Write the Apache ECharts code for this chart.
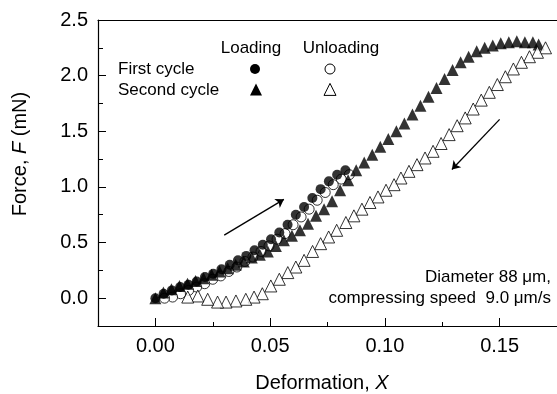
<!DOCTYPE html>
<html>
<head>
<meta charset="utf-8">
<script src="https://cdn.jsdelivr.net/npm/echarts@6/dist/echarts.min.js"></script>
<style>html,body{margin:0;padding:0;background:#fff}#c{width:557px;height:394px}</style>
</head>
<body>
<div id="c"></div>
<script>
// ---- Data ----
const xFirstLoad = [0, 0.0036, 0.0072, 0.0108, 0.0144, 0.018, 0.0216, 0.0252, 0.0288, 0.0324, 0.036, 0.0396, 0.0432, 0.0468, 0.0504, 0.054, 0.0576, 0.0612, 0.0648, 0.0684, 0.072, 0.0756, 0.0792, 0.0828];
const yFirstLoad = [0, 0.04, 0.07, 0.10, 0.12, 0.15, 0.19, 0.22, 0.26, 0.30, 0.34, 0.38, 0.43, 0.48, 0.53, 0.59, 0.66, 0.75, 0.82, 0.90, 0.98, 1.05, 1.11, 1.15];

const xFirstUnload = [0.0845, 0.081, 0.0775, 0.074, 0.0705, 0.067, 0.0635, 0.06, 0.0565, 0.053, 0.0495, 0.046, 0.0425, 0.039, 0.0355, 0.032, 0.0285, 0.025, 0.0215, 0.018, 0.0145, 0.011, 0.0075, 0.004];
const yFirstUnload = [1.11, 1.07, 1.02, 0.95, 0.88, 0.80, 0.73, 0.66, 0.58, 0.53, 0.47, 0.42, 0.37, 0.33, 0.28, 0.24, 0.20, 0.17, 0.13, 0.10, 0.07, 0.04, 0.01, 0.0];

const xSecondLoad = [0, 0.0035, 0.007, 0.0105, 0.014, 0.0175, 0.021, 0.0245, 0.028, 0.0315, 0.035, 0.0385, 0.042, 0.0455, 0.049, 0.0525, 0.056, 0.0595, 0.063, 0.0665, 0.07, 0.0735, 0.077, 0.0805, 0.084, 0.0875, 0.091, 0.0945, 0.098, 0.1015, 0.105, 0.1085, 0.112, 0.1155, 0.119, 0.1225, 0.126, 0.1295, 0.133, 0.1365, 0.14, 0.1435, 0.147, 0.1505, 0.154, 0.1575, 0.161, 0.1645, 0.167];
const ySecondLoad = [0.0, 0.05, 0.08, 0.11, 0.13, 0.155, 0.18, 0.21, 0.24, 0.27, 0.30, 0.33, 0.365, 0.39, 0.42, 0.47, 0.52, 0.56, 0.61, 0.67, 0.74, 0.80, 0.87, 0.97, 1.06, 1.15, 1.22, 1.29, 1.36, 1.43, 1.50, 1.57, 1.65, 1.73, 1.81, 1.89, 1.97, 2.05, 2.12, 2.17, 2.22, 2.25, 2.27, 2.29, 2.30, 2.31, 2.30, 2.30, 2.28];

const xSecondUnload = [0.170, 0.1665, 0.163, 0.1595, 0.156, 0.1525, 0.149, 0.1455, 0.142, 0.1385, 0.135, 0.1315, 0.128, 0.1245, 0.121, 0.1175, 0.114, 0.1105, 0.107, 0.104, 0.1005, 0.097, 0.0935, 0.090, 0.0865, 0.083, 0.079, 0.0755, 0.072, 0.0685, 0.0648, 0.0612, 0.0577, 0.054, 0.0503, 0.0466, 0.043, 0.0394, 0.0351, 0.0308, 0.0271, 0.0228, 0.0185, 0.0141];
const ySecondUnload = [2.25, 2.21, 2.17, 2.12, 2.06, 1.99, 1.92, 1.85, 1.78, 1.70, 1.62, 1.55, 1.47, 1.39, 1.32, 1.26, 1.20, 1.14, 1.08, 1.02, 0.97, 0.91, 0.86, 0.80, 0.74, 0.68, 0.61, 0.55, 0.49, 0.42, 0.34, 0.28, 0.23, 0.17, 0.11, 0.04, 0.01, -0.01, -0.025, -0.035, -0.035, -0.01, 0.02, 0.01];

const xTickLabels = [0, 0.05, 0.10, 0.15];
const xMinorTicks = [0.025, 0.075, 0.125];
const yTickLabels = [0, 0.5, 1.0, 1.5, 2.0, 2.5];
const yMinorTicks = [0.25, 0.75, 1.25, 1.75, 2.25];

const arrowLoading = [[0.030, 0.567], [0.056, 0.888]];
const arrowUnloading = [[0.150, 1.607], [0.1292, 1.157]];

const seriesNames = ['First cycle loading', 'First cycle unloading', 'Second cycle loading', 'Second cycle unloading'];

// ---- Build ----
const zip = (xs, ys) => xs.map((x, i) => [x, ys[i]]);
const FONT = 'Liberation Sans, Arial, sans-serif';
const chart = echarts.init(document.getElementById('c'), null, {renderer: 'canvas'});

const axisLineStyle = {color: '#000', width: 1.2};
const triPts = (cx, cy, s) => [[cx, cy - s * 0.55], [cx + s / 2, cy + s * 0.45], [cx - s / 2, cy + s * 0.45]];

const option = {
  animation: false,
  grid: {left: 98, top: 20, width: 462, height: 306, containLabel: false},
  xAxis: [
    {type: 'value', min: -0.025, max: 0.175, position: 'bottom',
     axisLine: {onZero: false, lineStyle: axisLineStyle},
     axisTick: {inside: true, length: 8, customValues: xTickLabels, lineStyle: {color: '#000', width: 1}},
     axisLabel: {customValues: xTickLabels, formatter: v => v.toFixed(2), fontSize: 20, color: '#000', fontFamily: FONT, margin: 10},
     splitLine: {show: false}},
    {type: 'value', min: -0.025, max: 0.175, position: 'bottom',
     axisLine: {show: false, onZero: false},
     axisTick: {inside: true, length: 4, customValues: xMinorTicks, lineStyle: {color: '#000', width: 1}},
     axisLabel: {show: false}, splitLine: {show: false}},
    {type: 'value', min: -0.025, max: 0.175, position: 'top',
     axisLine: {onZero: false, lineStyle: axisLineStyle},
     axisTick: {show: false}, axisLabel: {show: false}, splitLine: {show: false}}
  ],
  yAxis: [
    {type: 'value', min: -0.25, max: 2.5, position: 'left',
     axisLine: {show: true, onZero: false, lineStyle: axisLineStyle},
     axisTick: {show: true, inside: true, length: 8, customValues: yTickLabels, lineStyle: {color: '#000', width: 1}},
     axisLabel: {customValues: yTickLabels, formatter: v => v.toFixed(1), fontSize: 20, color: '#000', fontFamily: FONT, margin: 10},
     splitLine: {show: false}},
    {type: 'value', min: -0.25, max: 2.5, position: 'left',
     axisLine: {show: false, onZero: false},
     axisTick: {show: true, inside: true, length: 5, customValues: yMinorTicks, lineStyle: {color: '#000', width: 1}},
     axisLabel: {show: false}, splitLine: {show: false}}
  ],
  series: [
    {name: seriesNames[1], type: 'scatter', data: zip(xFirstUnload, yFirstUnload), symbol: 'circle', symbolSize: 10,
     itemStyle: {color: '#fff', borderColor: '#000', borderWidth: 1}, z: 3},
    {name: seriesNames[0], type: 'scatter', data: zip(xFirstLoad, yFirstLoad), symbol: 'circle', symbolSize: 10,
     itemStyle: {color: '#000'}, z: 3,
     markLine: {silent: true, symbol: ['none', 'arrow'], symbolSize: 8, label: {show: false},
       lineStyle: {color: '#000', width: 1.3, type: 'solid'},
       data: [
         [{coord: arrowLoading[0]}, {coord: arrowLoading[1]}],
         [{coord: arrowUnloading[0]}, {coord: arrowUnloading[1]}]
       ]}},
    {name: seriesNames[2], type: 'scatter', data: zip(xSecondLoad, ySecondLoad), symbol: 'triangle', symbolSize: 12,
     itemStyle: {color: '#000'}, z: 3},
    {name: seriesNames[3], type: 'scatter', data: zip(xSecondUnload, ySecondUnload), symbol: 'triangle', symbolSize: 12,
     itemStyle: {color: '#fff', borderColor: '#000', borderWidth: 1}, z: 3}
  ],
  graphic: [
    {type: 'text', x: 20, y: 154, rotation: Math.PI / 2, silent: true,
     style: {text: '{n|Force, }{i|F}{n| (mN)}', align: 'center', verticalAlign: 'middle',
       rich: {n: {fontSize: 20, fontFamily: FONT, fill: '#000'}, i: {fontSize: 20, fontFamily: FONT, fontStyle: 'italic', fill: '#000'}}}},
    {type: 'text', x: 322, y: 383, silent: true,
     style: {text: '{n|Deformation, }{i|X}', align: 'center', verticalAlign: 'middle',
       rich: {n: {fontSize: 20, fontFamily: FONT, fill: '#000'}, i: {fontSize: 20, fontFamily: FONT, fontStyle: 'italic', fill: '#000'}}}},
    {type: 'text', x: 251, y: 48, silent: true, style: {text: 'Loading', align: 'center', verticalAlign: 'middle', fontSize: 17, fontFamily: FONT, fill: '#000'}},
    {type: 'text', x: 341, y: 48, silent: true, style: {text: 'Unloading', align: 'center', verticalAlign: 'middle', fontSize: 17, fontFamily: FONT, fill: '#000'}},
    {type: 'text', x: 118, y: 69, silent: true, style: {text: 'First cycle', align: 'left', verticalAlign: 'middle', fontSize: 17, fontFamily: FONT, fill: '#000'}},
    {type: 'text', x: 118, y: 90, silent: true, style: {text: 'Second cycle', align: 'left', verticalAlign: 'middle', fontSize: 17, fontFamily: FONT, fill: '#000'}},
    {type: 'circle', silent: true, shape: {cx: 255, cy: 69, r: 5}, style: {fill: '#000'}},
    {type: 'circle', silent: true, shape: {cx: 330, cy: 69, r: 5}, style: {fill: '#fff', stroke: '#000', lineWidth: 1}},
    {type: 'polygon', silent: true, shape: {points: triPts(256, 90, 12)}, style: {fill: '#000'}},
    {type: 'polygon', silent: true, shape: {points: triPts(330, 90, 12)}, style: {fill: '#fff', stroke: '#000', lineWidth: 1}},
    {type: 'text', x: 551, y: 277, silent: true, style: {text: 'Diameter 88 \u03bcm,', align: 'right', verticalAlign: 'middle', fontSize: 17, fontFamily: FONT, fill: '#000'}},
    {type: 'text', x: 551, y: 298, silent: true, style: {text: 'compressing speed  9.0 \u03bcm/s', align: 'right', verticalAlign: 'middle', fontSize: 17, fontFamily: FONT, fill: '#000'}}
  ]
};
chart.setOption(option);
</script>
</body>
</html>
